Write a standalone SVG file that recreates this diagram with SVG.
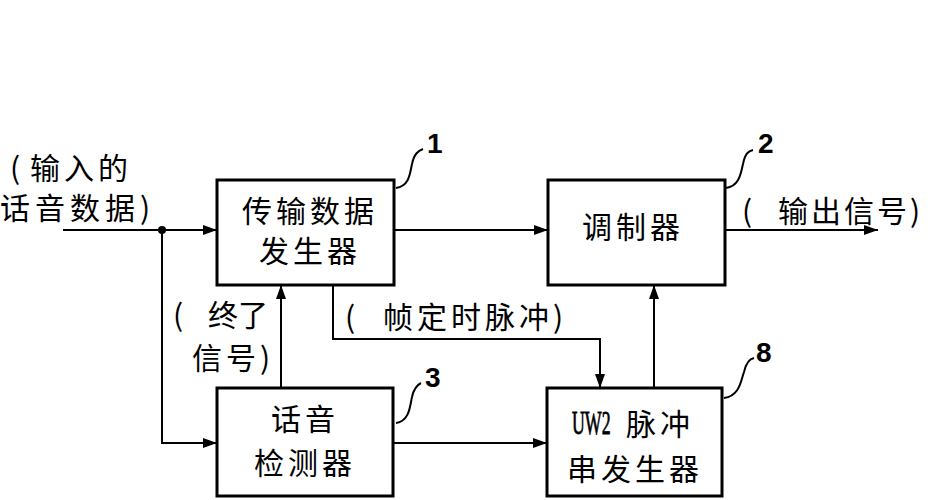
<svg xmlns="http://www.w3.org/2000/svg" width="932" height="500" viewBox="0 0 932 500">
<defs>
<marker id="arr" viewBox="0 0 14 10" refX="14" refY="5" markerWidth="14" markerHeight="10" markerUnits="userSpaceOnUse" orient="auto">
<path d="M0,0 L14,5 L0,10 Z" fill="#000"/>
</marker>
</defs>
<style>
.box{fill:#fff;stroke:#000;stroke-width:3}
.ln{fill:none;stroke:#000;stroke-width:2}
.lead{fill:none;stroke:#000;stroke-width:2}
.t{font-family:"Noto Sans CJK SC","Liberation Sans",sans-serif;font-size:30px;letter-spacing:4px;fill:#000}
.c{text-anchor:middle}
.num{font-family:"Liberation Sans",Arial,sans-serif;font-weight:bold;font-size:28px;fill:#000}
.uw{font-family:"Liberation Serif","Times New Roman",serif;font-size:33px;fill:#000;stroke:#000;stroke-width:0.8}
</style>
<rect width="932" height="500" fill="#fff"/>
<g id="connectors">
<path class="ln" d="M63,230 H217" marker-end="url(#arr)"/>
<circle cx="162" cy="230" r="4" fill="#000"/>
<path class="ln" d="M162,230 V443 H217" marker-end="url(#arr)"/>
<path class="ln" d="M394,230 H548" marker-end="url(#arr)"/>
<path class="ln" d="M725,230 H878" marker-end="url(#arr)"/>
<path class="ln" d="M281,388 V285" marker-end="url(#arr)"/>
<path class="ln" d="M333,285 V339 H600 V388" marker-end="url(#arr)"/>
<path class="ln" d="M392,443 H547" marker-end="url(#arr)"/>
<path class="ln" d="M654,388 V285" marker-end="url(#arr)"/>
</g>
<g id="labels">
<text class="t" x="10" y="179">(<tspan x="30">输入的</tspan></text>
<text class="t" x="0" y="219" style="letter-spacing:5px">话音数据)</text>
<text class="t" x="742" y="222">(<tspan x="778" style="letter-spacing:3px">输出信号)</tspan></text>
<text class="t" x="173" y="326">(<tspan x="208" style="letter-spacing:0px">终了</tspan></text>
<text class="t" x="192" y="369">信号)</text>
<text class="t" x="345" y="328">(<tspan x="383">帧定时脉冲)</tspan></text>
</g>
<g id="node1">
<rect class="box" x="217" y="180" width="177" height="105"/>
<text class="t c" x="310" y="222">传输数据</text>
<text class="t c" x="310" y="262">发生器</text>
<path class="lead" d="M396,188 C410,186 410,172 412,164 C414,154 418,151 423,149"/>
<text class="num" x="427" y="153">1</text>
</g>
<g id="node2">
<rect class="box" x="548" y="180" width="177" height="105"/>
<text class="t c" x="633" y="238">调制器</text>
<path class="lead" d="M726,188 C740,186 741,172 743,164 C745,154 748,151 753,150"/>
<text class="num" x="758" y="153">2</text>
</g>
<g id="node3">
<rect class="box" x="217" y="388" width="176" height="108"/>
<text class="t c" x="305" y="430">话音</text>
<text class="t c" x="305" y="474">检测器</text>
<path class="lead" d="M396,423 C410,421 410,405 412,397 C414,388 417,385 421,383"/>
<text class="num" x="425" y="387">3</text>
</g>
<g id="node8">
<rect class="box" x="547" y="388" width="175" height="108"/>
<text class="uw" transform="translate(572,434) scale(0.54,1)" x="0" y="0">UW2</text>
<text class="t" x="626" y="435">脉冲</text>
<text class="t c" x="635" y="480">串发生器</text>
<path class="lead" d="M724,398 C740,396 741,380 744,372 C746,363 749,359 754,358"/>
<text class="num" x="756" y="362">8</text>
</g>
</svg>
